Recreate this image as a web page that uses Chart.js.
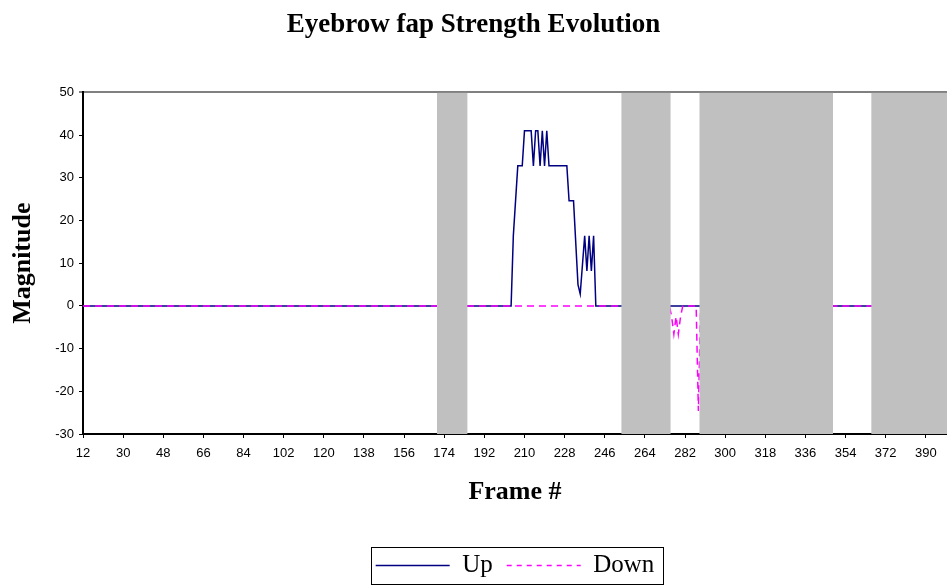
<!DOCTYPE html>
<html>
<head>
<meta charset="utf-8">
<script src="https://cdn.jsdelivr.net/npm/chart.js@4.4.1/dist/chart.umd.min.js"></script>
<style>
  body { margin: 0; background: #fff; }
  #wrap { width: 947px; height: 585px; }
</style>
</head>
<body>
<div id="wrap"><canvas id="fapChart" width="947" height="585"></canvas></div>
<script>
// frames where the Up curve changes, and its magnitude there
const upFrames = [12, 204, 205, 207, 209, 210, 213, 214, 215, 216, 217, 218, 219, 220, 221, 229, 230, 232, 234, 235, 237, 238, 239, 240, 241, 242, 400];
const upValues = [0, 0, 16.4, 32.8, 32.8, 41, 41, 32.8, 41, 41, 32.8, 41, 32.8, 41, 32.8, 32.8, 24.6, 24.6, 5, 2.8, 16.4, 8.2, 16.4, 8.2, 16.4, 0, 0];

// same for the Down curve
const downFrames = [12, 275, 276, 277, 278, 279, 280, 281, 287, 288, 289, 400];
const downValues = [0, 0, -2.5, -6.6, -2.5, -6.6, -2.5, 0, 0, -24.6, 0, 0];

// frame ranges with no tracking, drawn as grey columns
const gapStart = [170.7, 253.4, 288.4, 365.5];
const gapEnd = [184.5, 275.6, 348.4, 400];

const frameTicks = [12, 30, 48, 66, 84, 102, 120, 138, 156, 174, 192, 210, 228, 246, 264, 282, 300, 318, 336, 354, 372, 390];
const magnitudeTicks = [-30, -20, -10, 0, 10, 20, 30, 40, 50];

const serif = '"Liberation Serif", "Times New Roman", serif';
const sans = '"Liberation Sans", Arial, sans-serif';

function toPoints(xs, ys) {
  return xs.map((x, i) => ({ x: x, y: ys[i] }));
}

const datasets = [
  {
    label: 'Up',
    data: toPoints(upFrames, upValues),
    borderColor: '#000080',
    backgroundColor: '#000080',
    borderWidth: 1.5,
    pointRadius: 0,
    tension: 0,
    order: 2
  },
  {
    label: 'Down',
    data: toPoints(downFrames, downValues),
    borderColor: '#FF00FF',
    backgroundColor: '#FF00FF',
    borderWidth: 1.5,
    borderDash: [7, 5],
    pointRadius: 0,
    tension: 0,
    order: 1
  }
];

gapStart.forEach((s, i) => {
  datasets.push({
    label: 'gap' + i,
    data: [{ x: s, y: 50 }, { x: gapEnd[i], y: 50 }],
    borderWidth: 0,
    borderColor: 'rgba(0,0,0,0)',
    backgroundColor: '#C0C0C0',
    pointRadius: 0,
    fill: { value: -30 },
    order: 0
  });
});

// legend entries for the two curves only, keeping their dash pattern
function curveLabels(chart) {
  const items = Chart.defaults.plugins.legend.labels.generateLabels(chart);
  return items
    .filter(item => item.text === 'Up' || item.text === 'Down')
    .sort((a, b) => a.datasetIndex - b.datasetIndex)
    .map(item => {
      const ds = chart.data.datasets[item.datasetIndex];
      item.lineDash = ds.borderDash ? [5, 5] : [];
      item.strokeStyle = ds.borderColor;
      item.lineWidth = ds.borderWidth;
      return item;
    });
}

// box drawn round the legend entries
const legendFrame = {
  id: 'legendFrame',
  afterDraw(chart) {
    const boxes = chart.legend.legendHitBoxes;
    if (!boxes || !boxes.length) return;
    const last = boxes[boxes.length - 1];
    const left = boxes[0].left - 5;
    const right = last.left + last.width + 8;
    const mid = boxes[0].top + boxes[0].height / 2;
    const ctx = chart.ctx;
    ctx.save();
    ctx.strokeStyle = '#000';
    ctx.lineWidth = 1;
    ctx.strokeRect(Math.round(left) + 0.5, Math.round(mid - 18.5) + 0.5, Math.round(right - left), 37);
    ctx.restore();
  }
};

new Chart(document.getElementById('fapChart'), {
  type: 'line',
  data: { datasets: datasets },
  plugins: [legendFrame],
  options: {
    responsive: false,
    animation: false,
    layout: { padding: { left: 0, right: 0, top: 0, bottom: -3 } },
    plugins: {
      title: {
        display: true,
        text: 'Eyebrow fap Strength Evolution',
        color: '#000',
        font: { family: serif, size: 27, weight: 'bold' },
        padding: { top: 9, bottom: 51 }
      },
      legend: {
        position: 'bottom',
        fullSize: false,
        labels: {
          generateLabels: curveLabels,
          usePointStyle: true,
          pointStyle: 'line',
          pointStyleWidth: 74,
          padding: 14,
          color: '#000',
          font: { family: serif, size: 25 }
        }
      },
      tooltip: { enabled: false }
    },
    scales: {
      x: {
        type: 'linear',
        min: 12,
        max: 399.5,
        afterBuildTicks: scale => { scale.ticks = frameTicks.map(v => ({ value: v })); },
        afterFit: scale => { scale.height = 105; },
        ticks: {
          color: '#000',
          font: { family: sans, size: 13 },
          padding: 8,
          maxRotation: 0,
          autoSkip: false
        },
        grid: { drawOnChartArea: false, color: '#000', tickLength: 4, tickWidth: 1 },
        border: { color: '#000', width: 2 },
        title: {
          display: true,
          text: 'Frame #',
          color: '#000',
          font: { family: serif, size: 26, weight: 'bold' },
          padding: { top: 0, bottom: 31 }
        }
      },
      y: {
        min: -30,
        max: 50,
        afterBuildTicks: scale => { scale.ticks = magnitudeTicks.map(v => ({ value: v })); },
        afterFit: scale => { scale.width = 83; },
        ticks: {
          color: '#000',
          font: { family: sans, size: 13 },
          padding: 5
        },
        grid: {
          drawOnChartArea: true,
          color: c => (c.tick && c.tick.value === 50 ? '#808080' : 'rgba(0,0,0,0)'),
          lineWidth: c => (c.tick && c.tick.value === 50 ? 2 : 1),
          tickColor: '#000',
          tickWidth: 1,
          tickLength: 4
        },
        border: { color: '#000', width: 2 },
        title: {
          display: true,
          text: 'Magnitude',
          color: '#000',
          font: { family: serif, size: 26, weight: 'bold' },
          padding: { top: 8, bottom: 0 }
        }
      }
    }
  }
});
</script>
</body>
</html>
